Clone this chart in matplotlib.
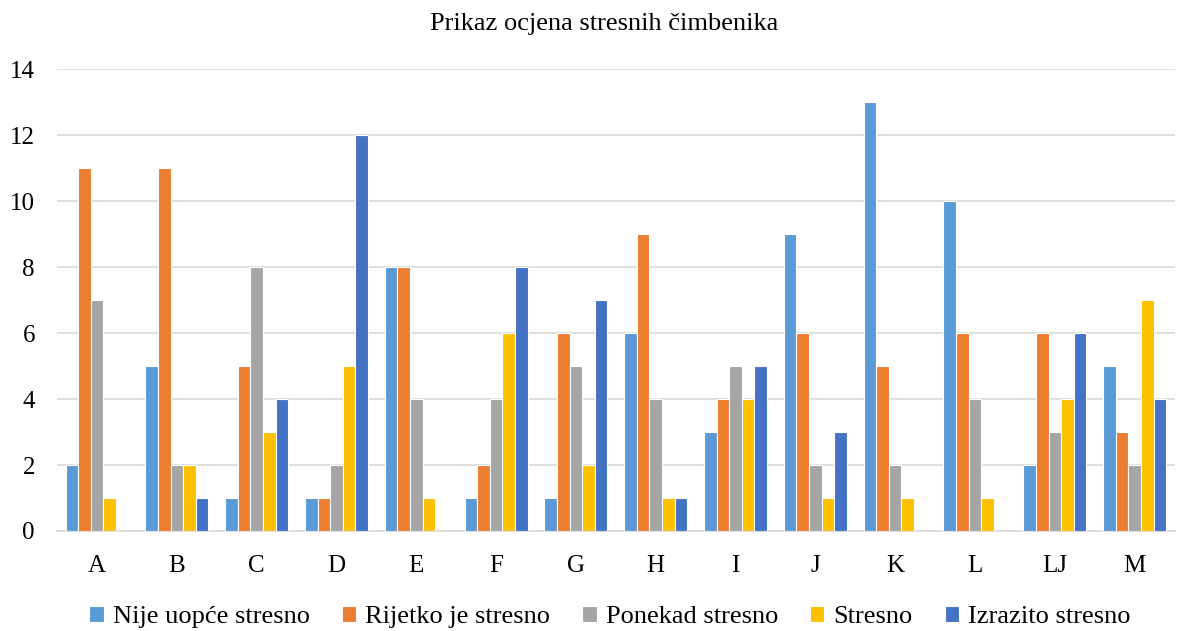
import matplotlib
matplotlib.use("Agg")
import matplotlib.pyplot as plt
import numpy as np

categories = ["A", "B", "C", "D", "E", "F", "G", "H", "I", "J", "K", "L", "LJ", "M"]
series_names = ["Nije uopće stresno", "Rijetko je stresno", "Ponekad stresno", "Stresno", "Izrazito stresno"]
nije = [2, 5, 1, 1, 8, 1, 1, 6, 3, 9, 13, 10, 2, 5]
rijetko = [11, 11, 5, 1, 8, 2, 6, 9, 4, 6, 5, 6, 6, 3]
ponekad = [7, 2, 8, 2, 4, 4, 5, 4, 5, 2, 2, 4, 3, 2]
stresno = [1, 2, 3, 5, 1, 6, 2, 1, 4, 1, 1, 1, 4, 7]
izrazito = [0, 1, 4, 12, 0, 8, 7, 1, 5, 3, 0, 0, 6, 4]
colors = ["#5B9BD5", "#ED7D31", "#A5A5A5", "#FFC000", "#4472C4"]

plt.rcParams['font.family'] = ['Liberation Serif', 'DejaVu Serif']

fig = plt.figure(figsize=(11.9, 6.31), dpi=100)
ax = fig.add_axes([0.048, 0.1585, 0.939, 0.732])

x = np.arange(len(categories))
data = [nije, rijetko, ponekad, stresno, izrazito]
pitch = 0.158
for i, (vals, name, c) in enumerate(zip(data, series_names, colors)):
    ax.bar(x + (i - 2) * pitch, vals, width=pitch, color=c, label=name,
           edgecolor="white", linewidth=0.8, zorder=3)

ax.set_xlim(-0.5, len(categories) - 0.5)
ax.set_ylim(0, 14)
ax.set_yticks(range(0, 15, 2))
ax.set_xticks(x)
ax.set_xticklabels(categories)
ax.tick_params(axis='both', length=0, labelsize=18, colors="#000000")
ax.tick_params(axis='x', pad=17)
ax.tick_params(axis='y', pad=16)
ax.grid(axis='y', color="#D9D9D9", linewidth=1.2, zorder=0)
for s in ["top", "right", "left"]:
    ax.spines[s].set_visible(False)
ax.spines["bottom"].set_color("#D9D9D9")
ax.spines["bottom"].set_linewidth(1.2)

fig.text(0.508, 0.962, "Prikaz ocjena stresnih čimbenika", ha="center", va="center", fontsize=19)

fig.legend(loc="center", bbox_to_anchor=(0.5126, 0.022), ncol=5, frameon=False,
           fontsize=19, handlelength=0.55, handleheight=0.55, handletextpad=0.35,
           columnspacing=1.2)

fig.savefig("out.png", dpi=100)
